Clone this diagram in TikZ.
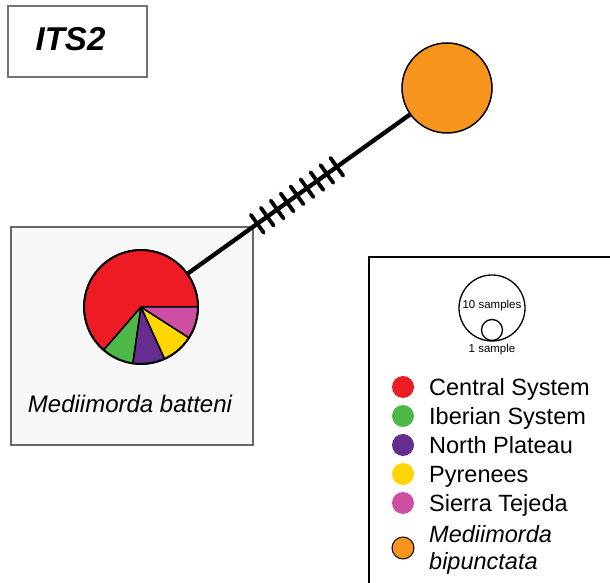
\documentclass[tikz,border=0pt]{standalone}
\usepackage{fontspec}
\setmainfont{Liberation Sans}
\usetikzlibrary{calc}
\definecolor{csred}{HTML}{ED1C24}
\definecolor{ibgreen}{HTML}{4DB848}
\definecolor{npurple}{HTML}{662D91}
\definecolor{pyyellow}{HTML}{FFD600}
\definecolor{stpink}{HTML}{CC4FA3}
\definecolor{bporange}{HTML}{F7941D}
\definecolor{boxgray}{HTML}{F7F8F7}

\begin{document}
\begin{tikzpicture}[x=1pt,y=1pt,
	slice/.style={draw=black,line width=1.5pt,line join=round},
	legdot/.style={circle,minimum size=22pt,inner sep=0pt},
	legtext/.style={anchor=base west,inner sep=0pt,font=\fontsize{23.5}{27}\selectfont},
	reflbl/.style={inner sep=0pt,font=\fontsize{11.5}{13}\selectfont},
	hatch/.style={line width=3.8pt,line cap=round}]
	\useasboundingbox (0,0) rectangle (610,583);
	\clip (0,0) rectangle (610,583);
	
	\node (itsbox)[draw=black!55,line width=1.2pt,minimum width=139pt,minimum height=71pt,inner sep=0pt] at (77.5,541.5) {};
	\node (its) at (70.5,544) {\fontsize{33}{36}\selectfont\bfseries\itshape ITS2};
	
	\node (popbox)[draw=black!60,fill=boxgray,line width=1.2pt,minimum width=242pt,minimum height=218pt,inner sep=0pt] at (132,247) {};
	\node (batteni)[anchor=base,inner sep=0pt] at (130,170) {\fontsize{24}{28}\selectfont\itshape Mediimorda batteni};
	
	\node (pie)[circle,minimum size=114pt,inner sep=0pt] at (141,276) {};
	\node (orange)[circle,draw,fill=bporange,line width=1.5pt,minimum size=90pt,inner sep=0pt] at (447,495) {};
	
	\draw[line width=4.3pt] 
	(pie) -- (orange);
	
	\foreach \t [evaluate=\t as \f using 0.38+\t*0.0325] in {0,...,8}
		\draw[hatch] ($(pie.center)!\f!(orange.center)$) ++(125.6:11) -- ++(-54.4:22);
	
	\foreach \a/\b/\c in {0/229.1/csred,229.1/261.8/ibgreen,261.8/294.5/npurple,294.5/327.3/pyyellow,327.3/360/stpink}
		\draw[slice,fill=\c] (pie.center) -- ++(\a:57) arc[start angle=\a,end angle=\b,radius=57] -- cycle;
	\draw[line width=2pt] (pie.center) circle[radius=57];
	
	\draw[line width=2pt] (369,326) rectangle (630,-20);
	\node (bigref)[circle,draw,line width=1.3pt,minimum size=66pt,inner sep=0pt] at (492,275) {};
	\node (smallref)[circle,draw,line width=1.3pt,minimum size=21pt,inner sep=0pt] at (492,253) {};
	\node (tenlbl)[reflbl] at (492,277) {10 samples};
	\node (onelbl)[reflbl] at (492,233) {1 sample};
	
	\foreach \c/\l/\y [count=\i] in {csred/Central System/187,ibgreen/Iberian System/158,npurple/North Plateau/129,pyyellow/Pyrenees/100,stpink/Sierra Tejeda/71}
	{
		\node (dot\i)[legdot,fill=\c] at (403,\y+9) {};
		\node (lbl\i)[legtext] at (429,\y) {\l};
	}
	\node (dot6)[legdot,draw,fill=bporange,line width=1pt] at (403,35) {};
	\node (lbl6)[legtext] at (429,40) {\itshape Mediimorda};
	\node (lbl7)[legtext] at (429,13) {\itshape bipunctata};
\end{tikzpicture}
\end{document}
